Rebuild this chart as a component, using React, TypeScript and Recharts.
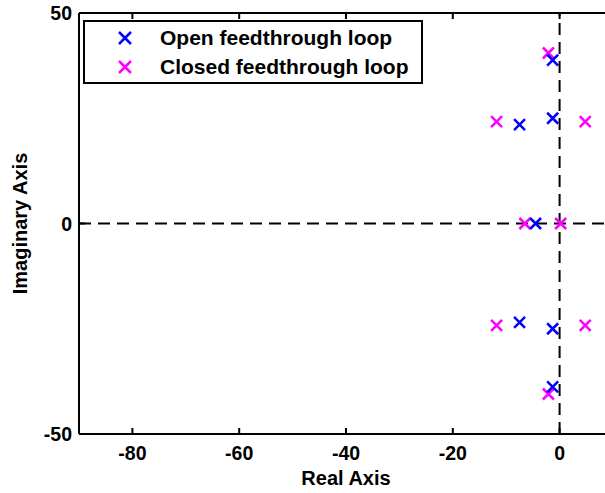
import { ScatterChart, Scatter, XAxis, YAxis, ReferenceLine, Legend } from "recharts";

const openReal = [-1.3, -1.3, -7.5, -7.5, -1.3, -1.3, -4.5];
const openImag = [38.8, -38.8, 23.5, -23.5, 25, -25, 0];
const closedReal = [-2.1, -2.1, -11.8, -11.8, 4.8, 4.8, -6.5, 0.2];
const closedImag = [40.5, -40.5, 24.2, -24.2, 24.2, -24.2, 0, 0];
const xTicks = [-80, -60, -40, -20, 0];
const yTicks = [-50, 0, 50];

const openData = openReal.map((x, i) => ({ x, y: openImag[i] }));
const closedData = closedReal.map((x, i) => ({ x, y: closedImag[i] }));

const FONT = "'Liberation Sans', Arial, sans-serif";
const BLUE = "#0000ff";
const MAGENTA = "#ff00ff";

const cross = (color: string) => (props: any) => {
    const { cx, cy } = props;
    const s = 5.5;
    return (
        <path
            d={`M${cx - s},${cy - s}L${cx + s},${cy + s}M${cx + s},${cy - s}L${cx - s},${cy + s}`}
            stroke={color}
            strokeWidth={2.5}
            fill="none"
        />
    );
};

const BottomTick = (props: any) => {
    const { x, y, payload } = props;
    return (
        <g>
            <line x1={x} x2={x} y1={y} y2={y - 6} stroke="#000" strokeWidth={2} />
            <text x={x} y={y + 26} textAnchor="middle" fontFamily={FONT} fontWeight="bold" fontSize={19.5} fill="#000">
                {payload.value}
            </text>
        </g>
    );
};

// top border ticks hang down into the plot
const TopTick = (props: any) => {
    const { x, y } = props;
    return <line x1={x} x2={x} y1={y} y2={y + 6} stroke="#000" strokeWidth={2} />;
};

const LeftTick = (props: any) => {
    const { x, y, payload } = props;
    return (
        <g>
            <line x1={x} x2={x + 6} y1={y} y2={y} stroke="#000" strokeWidth={2} />
            <text x={x - 7} y={y} dy="0.36em" textAnchor="end" fontFamily={FONT} fontWeight="bold" fontSize={19.5} fill="#000">
                {payload.value}
            </text>
        </g>
    );
};

const LegendBox = () => {
    const rows = [
        { label: "Open feedthrough loop", color: BLUE, cy: 18 },
        { label: "Closed feedthrough loop", color: MAGENTA, cy: 47 },
    ];
    return (
        <div
            style={{
                position: "relative",
                width: 340,
                height: 64,
                boxSizing: "border-box",
                border: "2px solid #000",
                background: "#fff",
                fontFamily: FONT,
                fontWeight: "bold",
                fontSize: 21,
            }}
        >
            {rows.map((r) => (
                <div key={r.label}>
                    <svg width={14} height={14} style={{ position: "absolute", left: 33, top: r.cy - 9 }}>
                        <path d="M1,1L13,13M13,1L1,13" stroke={r.color} strokeWidth={2.5} />
                    </svg>
                    <span style={{ position: "absolute", left: 75, top: r.cy - 14, lineHeight: "24px", whiteSpace: "nowrap" }}>
                        {r.label}
                    </span>
                </div>
            ))}
        </div>
    );
};

export default function App() {
    return (
        <div style={{ position: "absolute", left: 0, top: 0, width: 605, height: 493, overflow: "hidden", background: "#fff" }}>
            <ScatterChart width={620} height={493} margin={{ top: 12, right: 7, left: 0, bottom: 0 }}>
                <XAxis
                    xAxisId="top"
                    orientation="top"
                    type="number"
                    dataKey="x"
                    domain={[-90, 10]}
                    allowDataOverflow
                    ticks={xTicks}
                    height={1}
                    tickSize={0}
                    tickMargin={0}
                    tickLine={false}
                    tick={<TopTick />}
                    axisLine={{ stroke: "#000", strokeWidth: 2 }}
                />
                <XAxis
                    type="number"
                    dataKey="x"
                    domain={[-90, 10]}
                    allowDataOverflow
                    ticks={xTicks}
                    height={59}
                    tickSize={0}
                    tickMargin={0}
                    tickLine={false}
                    tick={<BottomTick />}
                    axisLine={{ stroke: "#000", strokeWidth: 2 }}
                    label={{
                        content: (p: any) => {
                            const vb = p.viewBox || { x: 79, width: 534, y: 434 };
                            return (
                                <text x={vb.x + vb.width / 2} y={485} textAnchor="middle" fontFamily={FONT} fontWeight="bold" fontSize={20} fill="#000">
                                    Real Axis
                                </text>
                            );
                        },
                    }}
                />
                <YAxis
                    type="number"
                    dataKey="y"
                    domain={[-50, 50]}
                    allowDataOverflow
                    ticks={yTicks}
                    width={79}
                    tickSize={0}
                    tickMargin={0}
                    tickLine={false}
                    tick={<LeftTick />}
                    axisLine={{ stroke: "#000", strokeWidth: 2 }}
                    label={{
                        content: (p: any) => {
                            const vb = p.viewBox || { y: 13, height: 421 };
                            const cy = vb.y + vb.height / 2;
                            return (
                                <text x={20} y={cy} transform={`rotate(-90, 20, ${cy})`} dy="0.36em" textAnchor="middle" fontFamily={FONT} fontWeight="bold" fontSize={20} fill="#000">
                                    Imaginary Axis
                                </text>
                            );
                        },
                    }}
                />
                <ReferenceLine x={0} stroke="#000" strokeWidth={2} strokeDasharray="12 7" />
                <ReferenceLine y={0} stroke="#000" strokeWidth={2} strokeDasharray="12 7" />
                <Scatter name="Closed feedthrough loop" data={closedData} shape={cross(MAGENTA)} isAnimationActive={false} />
                <Scatter name="Open feedthrough loop" data={openData} shape={cross(BLUE)} isAnimationActive={false} />
                <Legend
                    layout="vertical"
                    align="center"
                    verticalAlign="middle"
                    wrapperStyle={{ left: 83, top: 20, width: 340 }}
                    content={() => <LegendBox />}
                />
            </ScatterChart>
        </div>
    );
}
